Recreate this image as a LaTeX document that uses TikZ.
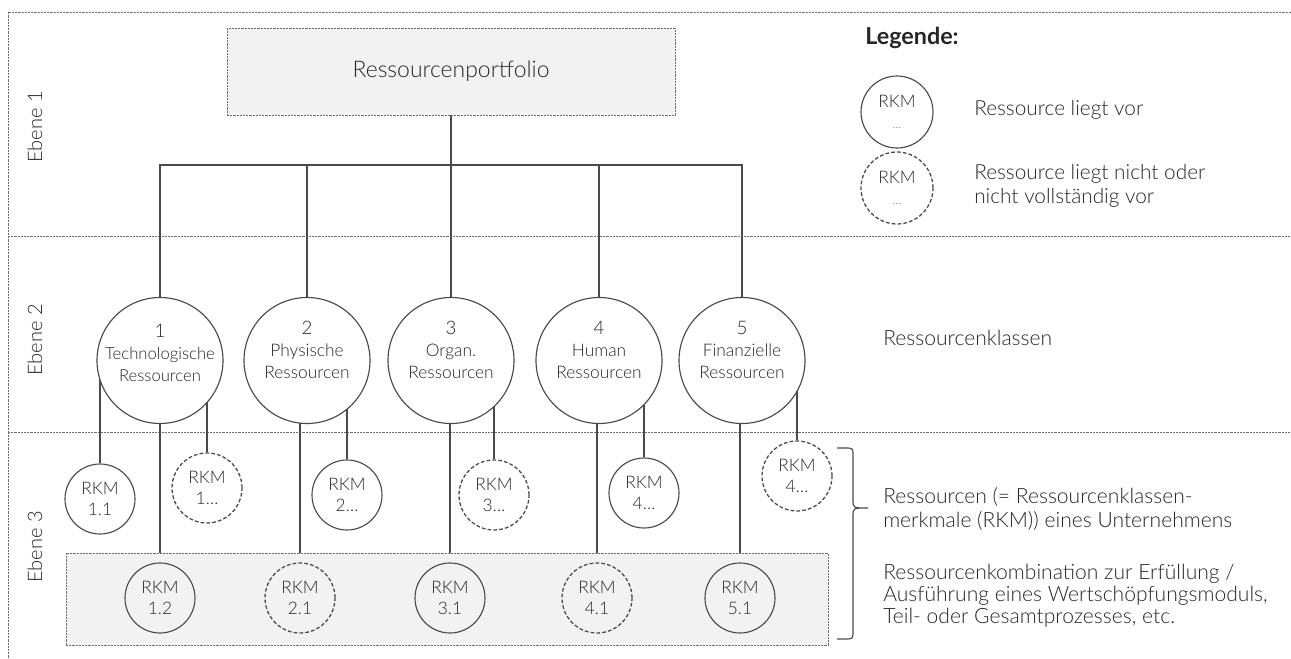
\documentclass[tikz,border=0pt]{standalone}
\usepackage{fontspec}
\setmainfont{Lato}[UprightFont=* Light, BoldFont=* Bold]
\usetikzlibrary{backgrounds,calc}
\definecolor{textgray}{HTML}{262626}
\definecolor{linegray}{HTML}{4A4A4A}
\definecolor{framegray}{HTML}{6E6E6E}
\definecolor{boxfill}{HTML}{F2F2F2}
\newlength\pxu
\setlength\pxu{0.75pt}
\begin{document}
\begin{tikzpicture}[x=0.75pt,y=-0.75pt,
  txt/.style={text=textgray, inner sep=0pt},
  framerule/.style={draw=framegray, line width=0.6pt, dash pattern=on 1.6pt off 0.8pt},
  greybox/.style={rectangle, fill=boxfill, draw=framegray, line width=0.6pt, dash pattern=on 1.6pt off 0.8pt},
  conn/.style={draw=linegray, line width=0.85pt},
  klasse/.style={circle, draw=linegray, line width=0.85pt, fill=white, minimum size=126\pxu, inner sep=0pt},
  klassetext/.style={txt, align=center, font=\fontsize{13}{16.5}\selectfont},
  rkm/.style={circle, draw=linegray, line width=0.85pt, minimum size=70\pxu, inner sep=0pt, align=center, text=textgray, font=\fontsize{13}{15.5}\selectfont},
  rkmopen/.style={rkm, line width=0.95pt, dash pattern=on 2.8pt off 1.6pt},
  ebene/.style={txt, rotate=90, font=\fontsize{15}{17}\selectfont},
  sidetext/.style={txt, anchor=west, align=left, font=\fontsize{15.8}{17.5}\selectfont},
  legtext/.style={txt, anchor=west, align=left, font=\fontsize{15.6}{18.5}\selectfont}
]
\useasboundingbox (0,0) rectangle (1291,659);

% top level: portfolio
\node[greybox, minimum width=448\pxu, minimum height=87\pxu, text=textgray, font=\fontsize{17.2}{20}\selectfont] (port) at (451,71.5) {Ressourcenportfolio};

% resource classes
\node[klasse] (k1) at (160,360.5) {};
\node[klasse] (k2) at (307,360.5) {};
\node[klasse] (k3) at (451,360.5) {};
\node[klasse] (k4) at (599,360.5) {};
\node[klasse] (k5) at (742,360.5) {};
\node[klassetext, font=\fontsize{12.5}{16.5}\selectfont] (k1t) at ($(k1.center)+(0,-8)$) {{\fontsize{14}{16}\selectfont 1}\\Technologische\\Ressourcen};
\node[klassetext] (k2t) at ($(k2.center)+(0,-11)$) {{\fontsize{14}{16}\selectfont 2}\\Physische\\Ressourcen};
\node[klassetext] (k3t) at ($(k3.center)+(0,-11)$) {{\fontsize{14}{16}\selectfont 3}\\Organ.\\Ressourcen};
\node[klassetext] (k4t) at ($(k4.center)+(0,-11)$) {{\fontsize{14}{16}\selectfont 4}\\Human\\Ressourcen};
\node[klassetext] (k5t) at ($(k5.center)+(0,-11)$) {{\fontsize{14}{16}\selectfont 5}\\Finanzielle\\Ressourcen};

% combination frame on level 3
\node[greybox, minimum width=762\pxu, minimum height=92\pxu] (combo) at (447,599) {};

% resource characteristics
\node[rkm]     (r11) at (100,499) {RKM\\1.1};
\node[rkmopen] (r1x) at (207,488) {RKM\\1…};
\node[rkm]     (r2x) at (347,495) {RKM\\2…};
\node[rkmopen] (r3x) at (494,495) {RKM\\3…};
\node[rkm]     (r4x) at (644,493) {RKM\\4…};
\node[rkmopen] (r5x) at (797,476) {RKM\\4…};
\node[rkm]     (r12) at (160,598) {RKM\\1.2};
\node[rkmopen] (r21) at (300,598) {RKM\\2.1};
\node[rkm]     (r31) at (450,598) {RKM\\3.1};
\node[rkmopen] (r41) at (597,598) {RKM\\4.1};
\node[rkm]     (r51) at (740,598) {RKM\\5.1};

% level labels
\node[ebene] (e1) at (35,127) {Ebene 1};
\node[ebene] (e2) at (35,340) {Ebene 2};
\node[ebene] (e3) at (35,547) {Ebene 3};

% legend
\node[txt, anchor=west, font=\bfseries\fontsize{17.5}{19}\selectfont] (legt) at (865,38) {Legende:};
\node[rkm, minimum size=72\pxu] (leg1) at (897,112) {RKM\\{\color{framegray}\fontsize{9}{11}\selectfont …}};
\node[rkmopen, minimum size=72\pxu] (leg2) at (897,188) {RKM\\{\color{framegray}\fontsize{9}{11}\selectfont …}};
\node[legtext] (leg1t) at (974,110) {Ressource liegt vor};
\node[legtext] (leg2t) at (974,186) {Ressource liegt nicht oder\\nicht vollständig vor};

% explanations
\node[sidetext] (s1) at (883,338) {Ressourcenklassen};
\node[sidetext] (s2) at (883,509) {Ressourcen (= Ressourcenklassen-\\merkmale (RKM)) eines Unternehmens};
\node[sidetext, font=\fontsize{15.8}{16.5}\selectfont] (s3) at (883,596) {Ressourcenkombination zur Erfüllung /\\Ausführung eines Wertschöpfungsmoduls,\\Teil- oder Gesamtprozesses, etc.};

% brace grouping level 3
\coordinate (bt) at (837,448);
\coordinate (btip) at (868,508);
\coordinate (bb) at (837,639);
\draw[conn] (bt) -- ++(8,0) .. controls ++(8,0) .. ++(8,8) -- ($(btip)+(-15,-8)$)
  .. controls ($(btip)+(-15,0)$) .. (btip)
  .. controls ($(btip)+(-15,0)$) .. ($(btip)+(-15,8)$) -- ($(bb)+(16,-8)$)
  .. controls ($(bb)+(16,0)$) .. ($(bb)+(8,0)$) -- (bb);

\begin{scope}[on background layer]
  % outer frame and level separators
  \draw[framerule] (1291,12) -- (8,12) -- (8,659);
  \draw[framerule] (8,236) -- (1291,236);
  \draw[framerule] (8,432) -- (1291,432);
  % tree from the portfolio to the classes
  \coordinate (bus) at (0,165);
  \draw[conn] (port.south) -- (port.south |- bus);
  \draw[conn] (k1.north) -- (k1.north |- bus) -- (k5.north |- bus) -- (k5.north);
  \foreach \k in {k2,k3,k4} \draw[conn] (\k.north) -- (\k.north |- bus);
  % classes to their characteristics
  \draw[conn] (r11.north) -- (r11.north |- k1.center);
  \draw[conn] (r1x.north) -- (r1x.north |- k1.center);
  \draw[conn] (r12.north) -- (r12.north |- k1.center);
  \draw[conn] (r21.north) -- (r21.north |- k2.center);
  \draw[conn] (r2x.north) -- (r2x.north |- k2.center);
  \draw[conn] (r31.north) -- (r31.north |- k3.center);
  \draw[conn] (r3x.north) -- (r3x.north |- k3.center);
  \draw[conn] (r41.north) -- (r41.north |- k4.center);
  \draw[conn] (r4x.north) -- (r4x.north |- k4.center);
  \draw[conn] (r51.north) -- (r51.north |- k5.center);
  \draw[conn] (r5x.north) -- (r5x.north |- k5.center);
\end{scope}
\end{tikzpicture}
\end{document}
